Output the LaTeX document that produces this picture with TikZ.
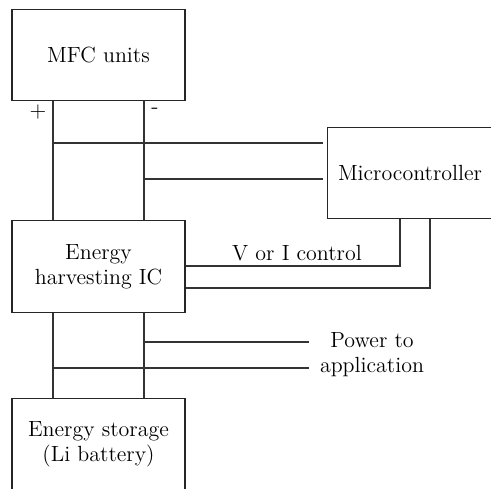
\documentclass[tikz,border=0pt]{standalone}
\begin{document}
\begin{tikzpicture}[
    x=0.02cm, y=-0.02cm,
    bb/.style={
        rectangle,
        draw=black!85,
        line width=0.7pt,
        minimum width=3.46cm,
        minimum height=1.83cm,
        inner sep=0pt,
        font=\fontsize{12.5}{14.2}\selectfont,
        align=center
    },
    wire/.style={
        draw=black!80,
        line width=0.7pt
    },
    lbl/.style={
        font=\fontsize{12.5}{14.2}\selectfont,
        align=center,
        inner sep=0pt
    }
]
    \useasboundingbox (0,0) rectangle (491,488);

    % boxes
    \node[bb] (mfc) at (98.5, 55) {MFC units};
    \node[bb, minimum width=3.3cm] (mcu) at (410, 173) {Microcontroller};
    \node[bb] (ehic) at (98.5, 266.5) {Energy\\harvesting IC};
    \node[bb] (store) at (98.5, 444) {Energy storage\\(Li battery)};

    % rails and free ends
    \coordinate (pos) at (53, 0);
    \coordinate (neg) at (144, 0);
    \coordinate (load1) at (309, 342);
    \coordinate (load2) at (309, 368);
    \coordinate (ctl1) at (400, 266);
    \coordinate (ctl2) at (430, 288);

    % polarity
    \node[lbl] (plus) at (38, 112) {+};
    \node[lbl] (minus) at (155, 111) {-};

    % MFC -> IC
    \draw[wire] (mfc.south -| pos) -- (ehic.north -| pos);
    \draw[wire] (mfc.south -| neg) -- (ehic.north -| neg);

    % supply sensing to microcontroller
    \draw[wire] (pos |- 0,143) -- ([xshift=-2pt] mcu.west |- 0,143);
    \draw[wire] (neg |- 0,179) -- ([xshift=-2pt] mcu.west |- 0,179);

    % control lines
    \draw[wire] (ehic.east |- ctl1) -- (ctl1) -- (mcu.south -| ctl1);
    \draw[wire] (ehic.east |- ctl2) -- (ctl2) -- (mcu.south -| ctl2);
    \node[lbl] (ctltext) at (297, 253) {V or I control};

    % IC -> storage
    \draw[wire] (ehic.south -| pos) -- (store.north -| pos);
    \draw[wire] (ehic.south -| neg) -- (store.north -| neg);

    % power out
    \draw[wire] (neg |- load1) -- (load1);
    \draw[wire] (pos |- load2) -- (load2);
    \node[lbl] (app) at (372, 355) {Power to\\application};

\end{tikzpicture}
\end{document}
